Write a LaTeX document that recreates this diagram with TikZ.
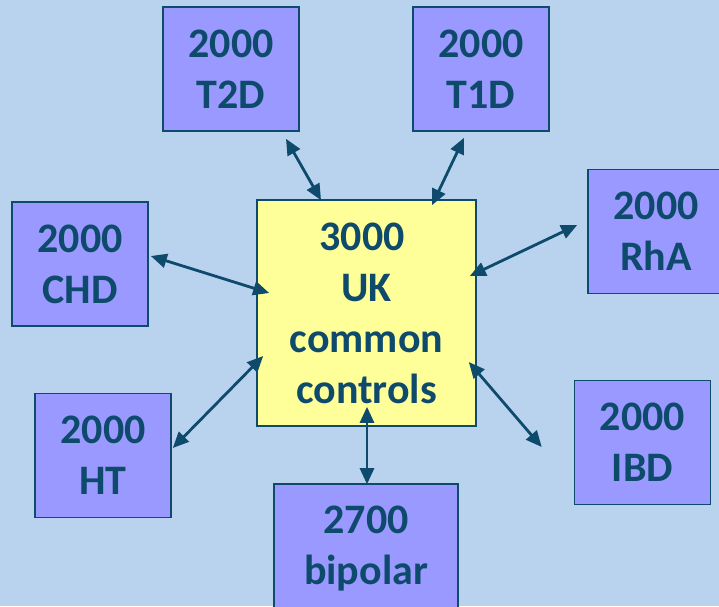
\documentclass[tikz,border=0pt]{standalone}
\usepackage{fontspec}
\setmainfont{Carlito}
\usetikzlibrary{arrows.meta}
\definecolor{bgblue}{RGB}{185,211,238}
\definecolor{boxviolet}{RGB}{153,153,255}
\definecolor{paleyellow}{RGB}{255,255,153}
\definecolor{inkblue}{RGB}{14,74,108}
\begin{document}
\begin{tikzpicture}[x=1pt,y=-1pt,
  box/.style={draw=inkblue, line width=1.6pt, fill=boxviolet,
    minimum width=136pt, minimum height=124pt, inner sep=0pt,
    align=center, text=inkblue,
    font=\fontsize{42}{51}\selectfont\bfseries},
  hub/.style={box, fill=paleyellow, minimum width=219pt, minimum height=226pt},
  link/.style={draw=inkblue, line width=2.8pt,
    {Triangle[length=16pt,width=14pt]}-{Triangle[length=16pt,width=14pt]}}]
  % canvas
  \useasboundingbox (0,0) rectangle (719,606);
  \clip (0,0) rectangle (719,606);
  \fill[bgblue] (0,0) rectangle (719,606);

  % central group
  \node[hub] (hub) at (366.5,313) {3000\hspace*{9pt}\\UK\\common\\controls};

  % surrounding groups
  \node[box] (t2d) at (231,69) {2000\\T2D};
  \node[box] (t1d) at (481,69) {2000\\T1D};
  \node[box] (chd) at (80,264) {2000\\CHD};
  \node[box] (rha) at (656,231.5) {2000\\RhA};
  \node[box] (ht)  at (103,455.5) {2000\\HT};
  \node[box] (ibd) at (642.5,442.5) {2000\\IBD};
  \node[box, minimum width=184pt, minimum height=130pt] (bip) at (366,549) {2700\\bipolar};

  % two-way links
  \draw[link] ([shift={(55,7)}]t2d.south) -- ([shift={(-45.5,1)}]hub.north);
  \draw[link] ([shift={(-17,6)}]t1d.south) -- ([shift={(65.5,6)}]hub.north);
  \draw[link] ([shift={(2,-8)}]chd.east) -- ([shift={(13,-20)}]hub.west);
  \draw[link] ([shift={(-10,-6.5)}]rha.west) -- ([shift={(-7,-37)}]hub.east);
  \draw[link] ([shift={(1,-7.5)}]ht.east) -- ([shift={(7,43)}]hub.west);
  \draw[link] ([shift={(-32,4.5)}]ibd.west) -- ([shift={(-8,49)}]hub.east);
  \draw[link] ([shift={(0.5,-20)}]hub.south) -- ([shift={(1,1)}]bip.north);
\end{tikzpicture}
\end{document}
